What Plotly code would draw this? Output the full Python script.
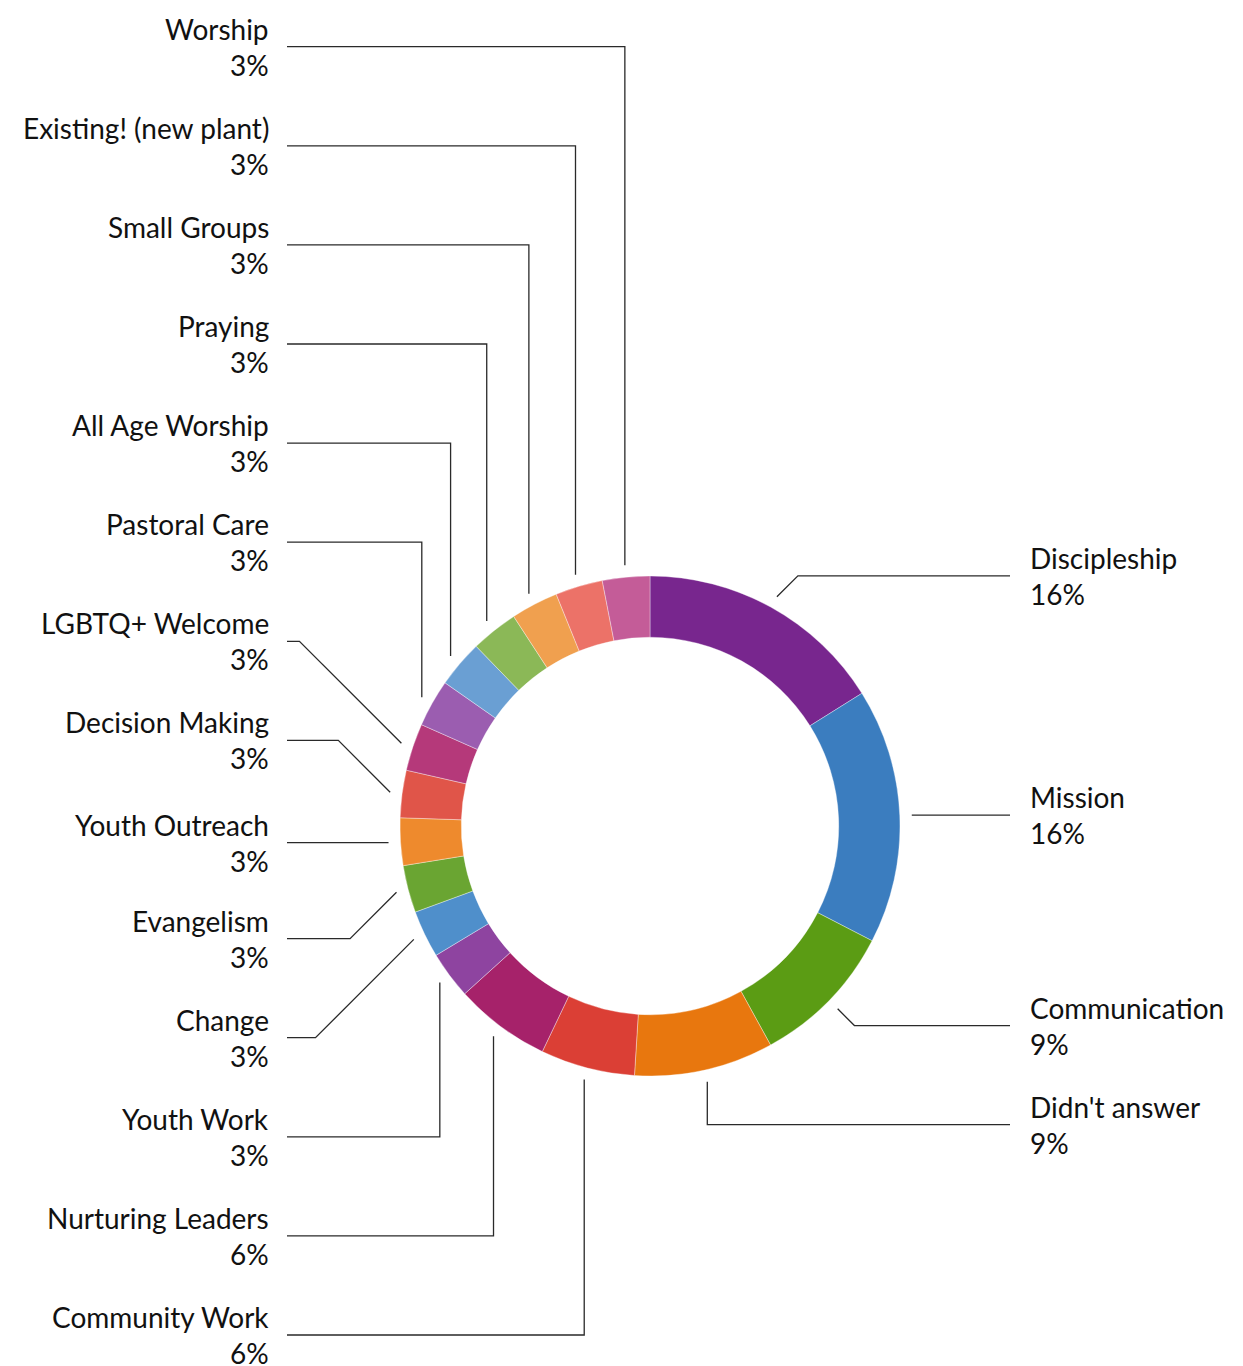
import math
import plotly.graph_objects as go

# ---------------- data ----------------
labels = [
    "Discipleship", "Mission", "Communication", "Didn't answer",
    "Community Work", "Nurturing Leaders", "Youth Work", "Change",
    "Evangelism", "Youth Outreach", "Decision Making", "LGBTQ+ Welcome",
    "Pastoral Care", "All Age Worship", "Praying", "Small Groups",
    "Existing! (new plant)", "Worship",
]
values = [16.1, 16.5, 9.4, 9.0, 6.1, 6.2, 3.06, 3.06, 3.06, 3.06,
          3.06, 3.06, 3.06, 3.06, 3.06, 3.06, 3.06, 3.06]
colors = [
    "#78268e", "#3b7dbf", "#5b9c14", "#e8770e", "#db3f35", "#a6226a",
    "#8e44a0", "#4f8fcb", "#6aa532", "#ee8a2d", "#e05549", "#b5397a",
    "#9b5db0", "#6a9fd3", "#8bb857", "#f0a04f", "#ec7268", "#c45c98",
]

# ---------------- layout constants (pixels) ----------------
W, H = 1243, 1366
CX, CY, R = 650, 826, 250
HOLE = 0.755
R_START = 262
R_LABEL = 286
GAP = 99.1
Y_TOP, Y_BOT = 39, 1335
LEFT_LINE_X, LEFT_TEXT_X = 287, 271
RIGHT_LINE_X, RIGHT_TEXT_X = 1010, 1028
DIAG_MARGIN = 10
VERT_COS = 0.9
STRAIGHT_TOL = 5
FONT = "Lato"
FSIZE = 28

total = sum(values)
pct_text = [f"{round(v / total * 100)}%" for v in values]

# slice mid angles (clockwise from 12 o'clock)
mids = []
acc = 0.0
for v in values:
    a0 = acc / total * 360
    acc += v
    a1 = acc / total * 360
    mids.append((a0 + a1) / 2)

items = []
for i, th in enumerate(mids):
    t = math.radians(th)
    sx = CX + R_START * math.sin(t)
    sy = CY - R_START * math.cos(t)
    ideal = CY - R_LABEL * math.cos(t)
    side = "right" if math.sin(t) > 0 else "left"
    items.append(dict(i=i, th=th, sx=sx, sy=sy, ideal=ideal, side=side))


def place(group):
    group.sort(key=lambda d: d["ideal"])
    ys = []
    for k, d in enumerate(group):
        y = max(d["ideal"], Y_TOP)
        if k > 0:
            y = max(y, ys[-1] + GAP)
        ys.append(y)
    for k in range(len(group) - 1, -1, -1):
        y = min(ys[k], Y_BOT)
        if k < len(group) - 1:
            y = min(y, ys[k + 1] - GAP)
        ys[k] = y
    for d, y in zip(group, ys):
        d["ly"] = y


left = [d for d in items if d["side"] == "left"]
right = [d for d in items if d["side"] == "right"]
place(left)
place(right)

lx, ly = [], []
annotations = []
for d in items:
    sx, sy, y = d["sx"], d["sy"], d["ly"]
    sgn = 1 if d["side"] == "right" else -1
    end_x = RIGHT_LINE_X if sgn > 0 else LEFT_LINE_X
    avail = abs(end_x - sx)
    dy = abs(y - sy)
    cosv = abs(math.cos(math.radians(d["th"])))
    if dy < STRAIGHT_TOL:
        y = sy
        pts = [(sx, sy), (end_x, sy)]
    elif dy <= avail - DIAG_MARGIN and cosv <= VERT_COS:
        pts = [(sx, sy), (sx + sgn * dy, y), (end_x, y)]
    else:
        pts = [(sx, sy), (sx, y), (end_x, y)]
    for px, py in pts:
        lx.append(px)
        ly.append(py)
    lx.append(None)
    ly.append(None)

    tx = RIGHT_TEXT_X if sgn > 0 else LEFT_TEXT_X
    anchor = "left" if sgn > 0 else "right"
    annotations.append(dict(
        x=tx, y=y - 18, xref="x", yref="y", text=labels[d["i"]],
        showarrow=False, xanchor=anchor, yanchor="middle",
        font=dict(family=FONT, size=FSIZE, color="#111111")))
    annotations.append(dict(
        x=tx, y=y + 18, xref="x", yref="y", text=pct_text[d["i"]],
        showarrow=False, xanchor=anchor, yanchor="middle",
        font=dict(family=FONT, size=FSIZE, color="#111111")))

fig = go.Figure()
fig.add_trace(go.Scatter(
    x=lx, y=ly, mode="lines", line=dict(color="#2a2a2a", width=1.3),
    hoverinfo="skip", showlegend=False))
fig.add_trace(go.Pie(
    labels=labels, values=values, hole=HOLE, sort=False,
    direction="clockwise", rotation=0, textinfo="none",
    marker=dict(colors=colors, line=dict(color="rgba(255,255,255,0.6)", width=0.6)),
    domain=dict(x=[(CX - R) / W, (CX + R) / W],
                y=[1 - (CY + R) / H, 1 - (CY - R) / H]),
    showlegend=False))

fig.update_layout(
    width=W, height=H, margin=dict(l=0, r=0, t=0, b=0),
    paper_bgcolor="white", plot_bgcolor="white",
    xaxis=dict(range=[0, W], visible=False, fixedrange=True),
    yaxis=dict(range=[H, 0], visible=False, fixedrange=True),
    annotations=annotations,
    font=dict(family=FONT, size=FSIZE),
)

fig.write_html("out.html", config={"displayModeBar": False},
               post_script="document.body.style.margin='0';document.body.style.overflow='hidden';")
